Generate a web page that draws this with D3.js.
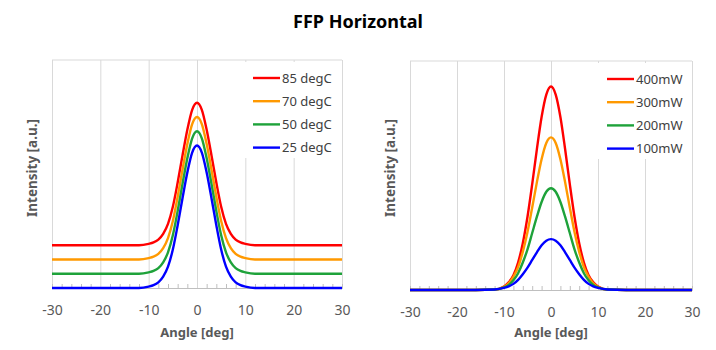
<!DOCTYPE html>
<html>
<head>
<meta charset="utf-8">
<script src="https://cdn.jsdelivr.net/npm/d3@7"></script>
<style>
    body { margin: 0; background: #fff; }
    text { font-family: "Noto Sans", sans-serif; }
</style>
</head>
<body>
<svg id="chart" width="716" height="350"></svg>
<script>
// angle samples [deg]
const angles = [-30, -20, -12, -10, -9, -8, -7, -6, -5, -4, -3, -2, -1, 0, 1, 2, 3, 4, 5, 6, 7, 8, 9, 10, 12, 20, 30];

// left: temperature dependence (curves offset for clarity)
const temp85 = [0.30, 0.30, 0.30, 0.31, 0.32, 0.34, 0.38, 0.45, 0.57, 0.74, 0.93, 1.11, 1.25, 1.30, 1.25, 1.11, 0.93, 0.74, 0.57, 0.45, 0.38, 0.34, 0.32, 0.31, 0.30, 0.30, 0.30];
const temp70 = [0.20, 0.20, 0.20, 0.21, 0.22, 0.24, 0.28, 0.35, 0.47, 0.64, 0.83, 1.01, 1.15, 1.20, 1.15, 1.01, 0.83, 0.64, 0.47, 0.35, 0.28, 0.24, 0.22, 0.21, 0.20, 0.20, 0.20];
const temp50 = [0.10, 0.10, 0.10, 0.11, 0.12, 0.14, 0.18, 0.25, 0.37, 0.54, 0.73, 0.91, 1.05, 1.10, 1.05, 0.91, 0.73, 0.54, 0.37, 0.25, 0.18, 0.14, 0.12, 0.11, 0.10, 0.10, 0.10];
const temp25 = [0.00, 0.00, 0.00, 0.01, 0.02, 0.04, 0.08, 0.15, 0.27, 0.44, 0.63, 0.81, 0.95, 1.00, 0.95, 0.81, 0.63, 0.44, 0.27, 0.15, 0.08, 0.04, 0.02, 0.01, 0.00, 0.00, 0.00];
const tempLabels = ['85 degC', '70 degC', '50 degC', '25 degC'];

// right: output power dependence
const pow400 = [0, 0, 0.01, 0.07, 0.15, 0.29, 0.54, 0.92, 1.44, 2.08, 2.77, 3.40, 3.84, 4.00, 3.84, 3.40, 2.77, 2.08, 1.44, 0.92, 0.54, 0.29, 0.15, 0.07, 0.01, 0, 0];
const pow300 = [0, 0, 0.01, 0.06, 0.13, 0.26, 0.45, 0.75, 1.14, 1.62, 2.12, 2.57, 2.89, 3.00, 2.89, 2.57, 2.12, 1.62, 1.14, 0.75, 0.45, 0.26, 0.13, 0.06, 0.01, 0, 0];
const pow200 = [0, 0, 0.01, 0.05, 0.10, 0.19, 0.33, 0.54, 0.80, 1.12, 1.44, 1.73, 1.93, 2.00, 1.93, 1.73, 1.44, 1.12, 0.80, 0.54, 0.33, 0.19, 0.10, 0.05, 0.01, 0, 0];
const pow100 = [0, 0, 0.01, 0.04, 0.07, 0.12, 0.20, 0.31, 0.44, 0.59, 0.74, 0.88, 0.97, 1.00, 0.97, 0.88, 0.74, 0.59, 0.44, 0.31, 0.20, 0.12, 0.07, 0.04, 0.01, 0, 0];
const powLabels = ['400mW', '300mW', '200mW', '100mW'];

const xTicks = [-30, -20, -10, 0, 10, 20, 30];
const colors = ['#ff0000', '#ff9900', '#1ea23a', '#0000ff'];

class FfpPanel {
    constructor(_config, _series, _labels) {
        this.config = _config;
        this.series = _series;
        this.labels = _labels;
        this.initVis();
    }

    initVis() {
        let vis = this;
        const c = vis.config;

        vis.x = d3.scaleLinear().domain([-30, 30]).range([c.left, c.right]);
        vis.y = d3.scaleLinear().domain([0, c.yMax]).range([c.bottom, c.top]);

        vis.g = d3.select('#chart').append('g');

        // vertical gridlines
        vis.g.append('g')
            .attr('transform', `translate(0,${c.bottom})`)
            .call(d3.axisBottom(vis.x).tickValues(xTicks).tickSize(-(c.bottom - c.top)).tickFormat(''))
            .call(g => g.select('.domain').remove())
            .selectAll('line').attr('stroke', '#d9d9d9');

        // top border
        vis.g.append('line')
            .attr('x1', c.left).attr('x2', c.right)
            .attr('y1', c.top).attr('y2', c.top)
            .attr('stroke', '#d9d9d9');

        // minor ticks pointing up
        const minor = d3.range(-28, 30, 2).filter(d => d % 10 !== 0);
        vis.g.append('g')
            .attr('transform', `translate(0,${c.bottom})`)
            .call(d3.axisBottom(vis.x).tickValues(minor).tickSize(-4).tickFormat(''))
            .call(g => g.select('.domain').attr('stroke', '#bfbfbf'))
            .selectAll('line').attr('stroke', '#bfbfbf');

        // tick labels (plain hyphen like the original)
        vis.g.append('g')
            .attr('transform', `translate(0,${c.bottom})`)
            .call(d3.axisBottom(vis.x).tickValues(xTicks).tickSize(0).tickPadding(c.labelPad)
                .tickFormat(d => String(d)))
            .call(g => g.select('.domain').remove())
            .selectAll('text')
            .attr('font-family', '"Noto Sans", sans-serif')
            .attr('font-size', 14)
            .attr('fill', '#595959');

        // axis titles
        vis.g.append('text')
            .attr('x', vis.x(0)).attr('y', 337)
            .attr('text-anchor', 'middle')
            .attr('font-size', 13).attr('font-weight', 'bold')
            .attr('fill', '#595959')
            .text('Angle [deg]');

        vis.g.append('text')
            .attr('transform', `translate(${c.yTitleX},168) rotate(-90)`)
            .attr('text-anchor', 'middle')
            .attr('font-size', 13.5).attr('font-weight', 'bold')
            .attr('fill', '#595959')
            .text('Intensity [a.u.]');

        // legend background
        vis.g.append('rect')
            .attr('x', c.legend.x - 10).attr('y', c.top + 2)
            .attr('width', c.right - 2 - (c.legend.x - 10)).attr('height', 96)
            .attr('fill', '#fff');

        vis.renderVis();
    }

    renderVis() {
        let vis = this;
        const c = vis.config;

        const line = d3.line()
            .x((d, i) => vis.x(angles[i]))
            .y(d => vis.y(d))
            .curve(d3.curveMonotoneX);

        vis.g.selectAll('.curve')
            .data(vis.series)
            .join('path')
            .attr('class', 'curve')
            .attr('d', line)
            .attr('fill', 'none')
            .attr('stroke', (d, i) => colors[i])
            .attr('stroke-width', 2.4);

        const leg = vis.g.selectAll('.leg')
            .data(vis.labels)
            .join('g')
            .attr('class', 'leg')
            .attr('transform', (d, i) => `translate(${c.legend.x},${c.legend.y + i * 23.2})`);

        leg.append('line')
            .attr('x1', 0).attr('x2', 27)
            .attr('stroke', (d, i) => colors[i])
            .attr('stroke-width', 2.4);

        leg.append('text')
            .attr('x', 29).attr('dy', '0.35em')
            .attr('font-size', 13)
            .attr('fill', '#404040')
            .text(d => d);
    }
}

d3.select('#chart').append('text')
    .attr('x', 358).attr('y', 28)
    .attr('text-anchor', 'middle')
    .attr('font-family', '"Liberation Sans Narrow", "DejaVu Sans Condensed", sans-serif')
    .attr('font-size', 18).attr('font-weight', 'bold')
    .attr('fill', '#000')
    .text('FFP Horizontal');

new FfpPanel({left: 52, right: 342, top: 60, bottom: 288, yMax: 1.6, labelPad: 17, yTitleX: 37,
    legend: {x: 253, y: 78}}, [temp85, temp70, temp50, temp25], tempLabels);

new FfpPanel({left: 410, right: 692, top: 61, bottom: 290, yMax: 4.5, labelPad: 17, yTitleX: 395,
    legend: {x: 607, y: 79}}, [pow400, pow300, pow200, pow100], powLabels);
</script>
</body>
</html>
